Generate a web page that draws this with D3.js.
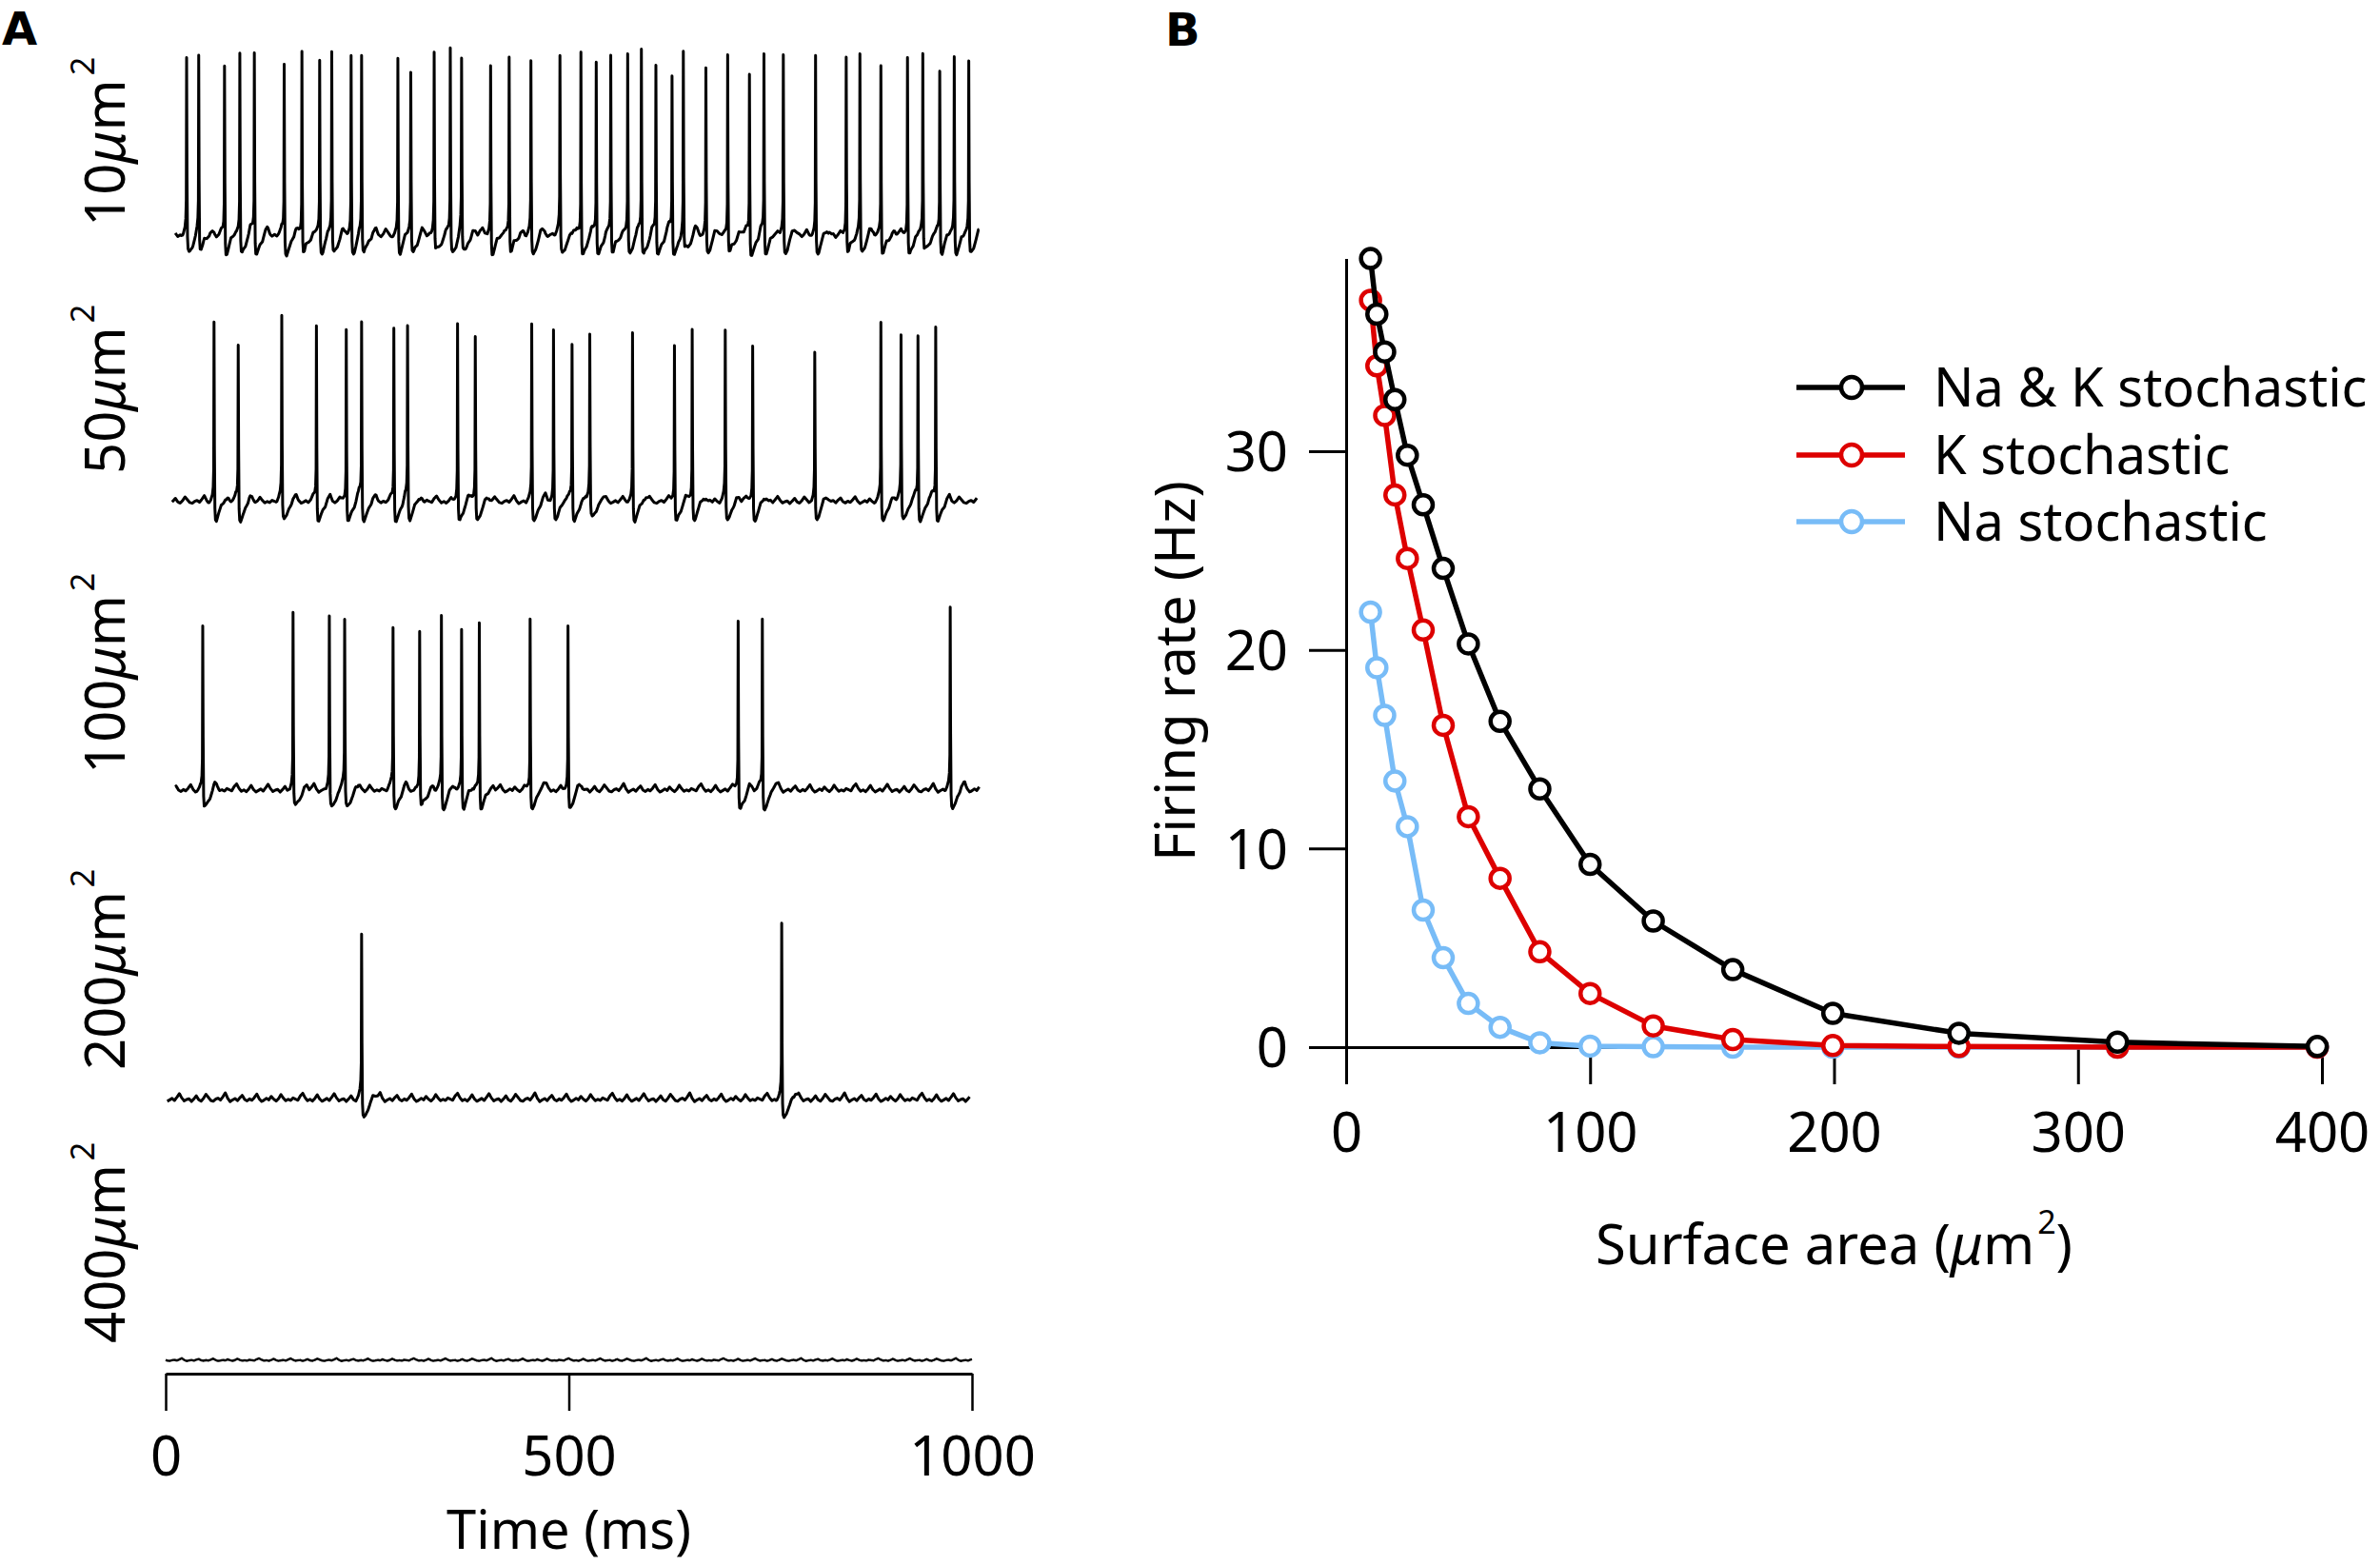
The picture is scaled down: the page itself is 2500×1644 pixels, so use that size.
<!DOCTYPE html>
<html>
<head>
<meta charset="utf-8">
<script src="https://cdn.jsdelivr.net/npm/d3@7"></script>
<style>
  body { margin: 0; background: #fff; }
  text { font-family: "Noto Sans", sans-serif; fill: #000; }
</style>
</head>
<body>
<script>
//Data - panel A (spike times in ms, peak voltage in mV)
    const traceAreas = ["10", "50", "100", "200", "400"];
    const traceSpan = [[12, 1009], [8, 1006], [12, 1009], [2, 997], [0, 1000]];

    const spikes10 = [26, 41, 73, 92, 110, 147, 169, 191, 206, 230, 243, 288, 304, 333, 353, 367, 403, 426, 453, 489,
                      515, 534, 552, 573, 590, 608, 628, 642, 670, 697, 724, 742, 766, 806, 844, 861, 887, 920, 939, 960, 978, 996];
    const peaks10  = [36, 38, 34, 40, 40, 34, 42, 36, 40, 39, 38, 37, 29, 40, 42, 34, 34, 39, 34, 35,
                      42, 36, 39, 39, 41, 33, 27, 40, 32, 40, 29, 39, 39, 39, 39, 38, 34, 39, 39, 30, 37, 35];
    const spikes50 = [60, 90, 144, 187, 224, 243, 283, 300, 362, 384, 454, 481, 504, 526, 579, 631, 653, 694, 728, 805, 887, 912, 933, 955];
    const peaks50  = [39, 26, 40, 37, 36, 38, 36, 35, 39, 31, 37, 35, 26, 30, 33, 27, 35, 33, 26, 22, 38, 29, 31, 36];
    const spikes100 = [46, 158, 203, 222, 282, 315, 342, 367, 389, 452, 499, 710, 740, 973];
    const peaks100  = [31, 37, 35, 31, 28, 27, 36, 28, 32, 35, 31, 34, 34, 39];
    const spikes200 = [243, 764];
    const peaks200  = [29, 35];
    const spikes400 = [];
    const peaks400  = [];

    const spikeTimes = [spikes10, spikes50, spikes100, spikes200, spikes400];
    const spikePeaks = [peaks10, peaks50, peaks100, peaks200, peaks400];

    const restV = -62;
    const noiseAmp = [1.3, 1.0, 1.1, 1.1, 0.35];
    const noiseShift = [0, 57, 113, 31, 85];
    // membrane noise, one value every 3 ms (mV)
    const membraneNoise = [0.2, -0.4, 1.8, 3.2, 0.9, -0.6, 0.1, -0.8, 0.5, 2.4, 0.3, -0.9, -0.2, 0.6, -0.5, 1.2,
                           3.0, 0.8, -0.7, 0.0, 0.4, -1.0, 0.3, 1.9, -0.1, -0.8, 0.6, 2.7, 1.1, -0.5, -0.9, 0.2,
                           0.7, -0.3, 1.4, 3.4, 0.6, -1.1, -0.2, 0.5, -0.6, 0.9, 2.1, 0.0, -0.7, 0.3, -0.4, 1.0,
                           2.8, 0.4, -1.0, -0.3, 0.6, -0.2, 1.6, 0.2, -0.8, 0.4, 2.5, 0.7, -0.6, 0.1, -0.5, 0.8];
    // action potential shape: [ms from peak, mV above rest]; null = the spike's own peak
    const spikeShape = [[-7, 0], [-4, 1.5], [-2, 4], [-1, 8], [-0.4, 18], [0, null], [0.5, 30], [1.1, -4],
                        [1.8, -10], [3, -10.5], [6, -7], [10, -3], [14, 1.5], [17, 2.2], [20, 0.5], [25, 0]];
    const timeTicks = [0, 500, 1000];

//Data - panel B
    const area    = [10, 12.6, 15.8, 20, 25.1, 31.6, 39.8, 50.1, 63.1, 79.4, 100, 125.9, 158.5, 199.5, 251.2, 316.2, 398.1];
    const rateNaK = [39.7, 36.9, 35.0, 32.6, 29.8, 27.3, 24.1, 20.3, 16.4, 13.0, 9.2, 6.35, 3.9, 1.7, 0.7, 0.25, 0.03];
    const rateK   = [37.6, 34.3, 31.8, 27.8, 24.6, 21.0, 16.2, 11.6, 8.5, 4.8, 2.7, 1.07, 0.38, 0.08, 0.03, 0, 0];
    const rateNa  = [21.9, 19.1, 16.7, 13.4, 11.1, 6.9, 4.5, 2.2, 1.0, 0.22, 0.05, 0.02, 0, 0, 0, 0, 0];
    const seriesNames  = ["Na & K stochastic", "K stochastic", "Na stochastic"];
    const seriesRates  = [rateNaK, rateK, rateNa];
    const seriesColors = ["#000000", "#dd0000", "#78bcf7"];
    const xTicksB = [0, 100, 200, 300, 400];
    const yTicksB = [0, 10, 20, 30];

//Layout
    const width = 2500;
    const height = 1644;
    const rowBase = [247, 527, 830, 1155, 1429];
    const labelBottom = [238, 498, 813, 1124, 1411];
    const mvPx = 1.86;
    const fontSize = 58;

    const svg = d3.select("body")
                    .append("svg")
                    .attr("width", width)
                    .attr("height", height);

//Panel letters
    svg.append("text").attr("x", 2).attr("y", 47).text("A")
        .style("font-family", "DejaVu Sans").style("font-weight", "bold").attr("font-size", 48);
    svg.append("text").attr("x", 1224).attr("y", 48).text("B")
        .style("font-family", "DejaVu Sans").style("font-weight", "bold").attr("font-size", 48);

//Panel A traces
    const xA = d3.scaleLinear().domain([0, 1000]).range([174, 1021]);

    function noiseAt(t) {
        const n = membraneNoise.length;
        const p = t / 3;
        const i = Math.floor(p);
        const f = p - i;
        const a = membraneNoise[((i % n) + n) % n];
        const b = membraneNoise[(((i + 1) % n) + n) % n];
        return a + (b - a) * f;
    }

    function shapeAt(dt, amp) {
        const pts = spikeShape.map(d => [d[0], d[1] === null ? amp : d[1]]);
        if (dt <= pts[0][0] || dt >= pts[pts.length - 1][0]) return 0;
        for (let k = 1; k < pts.length; k++) {
            if (dt <= pts[k][0]) {
                const f = (dt - pts[k - 1][0]) / (pts[k][0] - pts[k - 1][0]);
                return pts[k - 1][1] + (pts[k][1] - pts[k - 1][1]) * f;
            }
        }
        return 0;
    }

    traceAreas.forEach((label, r) => {
        const times = spikeTimes[r];
        const peaks = spikePeaks[r];
        const [t0, t1] = traceSpan[r];

        let samples = d3.range(t0, t1 + 0.001, 1);
        times.forEach(ts => spikeShape.forEach(d => {
            const t = ts + d[0];
            if (t >= t0 && t <= t1) samples.push(t);
        }));
        samples = Array.from(new Set(samples)).sort((a, b) => a - b);

        const trace = samples.map(t => {
            let v = restV + noiseAmp[r] * noiseAt(t + noiseShift[r]);
            times.forEach((ts, k) => { v += shapeAt(t - ts, peaks[k] - restV); });
            return [t, v];
        });

        const yA = d3.scaleLinear().domain([restV, 45]).range([rowBase[r], rowBase[r] - (45 - restV) * mvPx]);

        svg.append("path")
            .datum(trace)
            .attr("d", d3.line().x(d => xA(d[0])).y(d => yA(d[1])))
            .attr("fill", "none")
            .attr("stroke", "black")
            .attr("stroke-width", r === 4 ? 2.4 : 3)
            .attr("stroke-linejoin", "round");

        const lab = svg.append("text")
            .attr("transform", `translate(131 ${labelBottom[r]}) rotate(-90)`)
            .attr("font-size", fontSize);
        lab.append("tspan").text(label);
        lab.append("tspan").text("\u03bc").style("font-style", "italic");
        lab.append("tspan").text("m");
        lab.append("tspan").text("2").attr("font-size", 34).attr("dx", 4).attr("dy", -32);
    });

//Time axis
    const axisA = svg.append("g")
        .attr("transform", "translate(0 1443)")
        .call(d3.axisBottom(xA).tickValues(timeTicks).tickFormat(d3.format("d"))
                .tickSize(39).tickSizeOuter(0).tickPadding(27));
    axisA.select(".domain").attr("stroke-width", 3);
    axisA.selectAll(".tick line").attr("stroke-width", 2.5);
    axisA.selectAll("text").attr("font-size", fontSize).attr("font-family", null);

    svg.append("text")
        .attr("x", xA(500)).attr("y", 1627)
        .attr("text-anchor", "middle")
        .attr("font-size", 56)
        .text("Time (ms)");

//Panel B
    const yMax = d3.max(rateNaK);
    const xB = d3.scaleLinear().domain([0, 400]).range([1414, 2439]);
    const yB = d3.scaleLinear().domain([0, yMax]).range([1100, 1100 - yMax * 20.867]);

    const axisX = svg.append("g")
        .attr("transform", `translate(0 ${yB(0)})`)
        .call(d3.axisBottom(xB).tickValues(xTicksB).tickSize(39).tickSizeOuter(0).tickPadding(30));
    const axisY = svg.append("g")
        .attr("transform", `translate(${xB(0)} 0)`)
        .call(d3.axisLeft(yB).tickValues(yTicksB).tickSize(39).tickSizeOuter(0).tickPadding(22));
    [axisX, axisY].forEach(g => {
        g.select(".domain").attr("stroke-width", 3);
        g.selectAll(".tick line").attr("stroke-width", 3);
        g.selectAll("text").attr("font-size", fontSize).attr("font-family", null);
    });
    axisY.selectAll("text").attr("dy", "0.36em");

    const line = d3.line().x((d, i) => xB(area[i])).y(d => yB(d));

    //draw blue first so black ends up on top
    [2, 1, 0].forEach(s => {
        svg.append("path")
            .datum(seriesRates[s])
            .attr("d", line)
            .attr("fill", "none")
            .attr("stroke", seriesColors[s])
            .attr("stroke-width", 5.5)
            .attr("stroke-linejoin", "round");
        svg.append("g")
            .selectAll("circle")
            .data(seriesRates[s])
            .enter()
            .append("circle")
            .attr("cx", (d, i) => xB(area[i]))
            .attr("cy", d => yB(d))
            .attr("r", 10)
            .attr("fill", "white")
            .attr("stroke", seriesColors[s])
            .attr("stroke-width", 4.5);
    });

//Axis titles B
    const xTitle = svg.append("text")
        .attr("x", (xB(0) + xB(400)) / 2).attr("y", 1328)
        .attr("text-anchor", "middle")
        .attr("font-size", fontSize);
    xTitle.append("tspan").text("Surface area (");
    xTitle.append("tspan").text("\u03bc").style("font-style", "italic");
    xTitle.append("tspan").text("m");
    xTitle.append("tspan").text("2").attr("font-size", 34).attr("dx", 3).attr("dy", -32);
    xTitle.append("tspan").text(")").attr("dy", 32);

    svg.append("text")
        .attr("transform", "translate(1255 705) rotate(-90)")
        .attr("text-anchor", "middle")
        .attr("font-size", fontSize)
        .text("Firing rate (Hz)");

//Legend
    const legendY = [407, 478, 548];
    seriesNames.forEach((name, s) => {
        const g = svg.append("g").attr("transform", `translate(0 ${legendY[s]})`);
        g.append("line").attr("x1", 1887).attr("x2", 2001)
            .attr("stroke", seriesColors[s]).attr("stroke-width", 5.5);
        g.append("circle").attr("cx", 1945).attr("r", 11)
            .attr("fill", "white").attr("stroke", seriesColors[s]).attr("stroke-width", 4.5);
        g.append("text").attr("x", 2031).attr("y", 0).attr("dy", "0.36em")
            .attr("font-size", 56).text(name);
    });
</script>
</body>
</html>
